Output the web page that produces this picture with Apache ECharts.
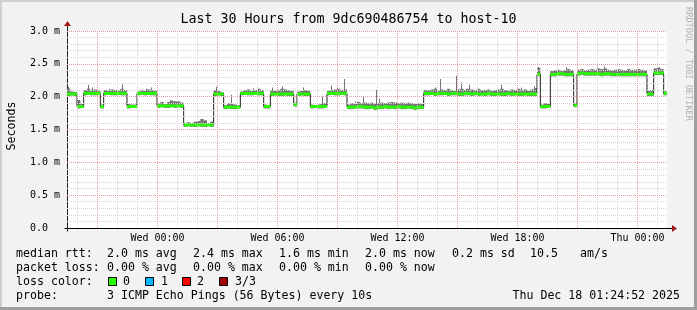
<!DOCTYPE html>
<html><head><meta charset="utf-8">
<script src="https://cdn.jsdelivr.net/npm/echarts@6/dist/echarts.min.js"></script>
<style>html,body{margin:0;padding:0;background:#f2f2f2}#c{width:697px;height:310px}</style>
</head><body><div id="c"></div>
<script>
// ---------- data ----------
const startHour = 19.475;           // graph start (hours since Tue 00:00)
const stepHours = 1 / 6;            // 10-minute steps
const spanHours = 30;

const median = [
2.04,2.04,2.04,1.85,1.85,2.05,2.05,2.05,2.05,2.05,
1.85,2.05,2.05,2.05,2.05,2.05,2.05,2.05,1.85,1.85,
1.85,2.05,2.05,2.05,2.05,2.05,2.05,1.86,1.86,1.86,
1.86,1.86,1.86,1.86,1.86,1.57,1.57,1.57,1.57,1.57,
1.57,1.57,1.57,1.57,2.04,2.04,2.04,1.84,1.84,1.84,
1.84,1.84,2.05,2.05,2.05,2.05,2.05,2.05,2.05,1.85,
1.85,2.04,2.04,2.04,2.04,2.04,2.04,2.04,1.88,2.04,
2.04,2.04,2.04,1.85,1.85,1.85,1.85,1.85,2.05,2.05,
2.05,2.05,2.05,2.05,1.84,1.84,1.84,1.85,1.85,1.84,
1.84,1.84,1.83,1.84,1.84,1.85,1.84,1.84,1.84,1.85,
1.84,1.84,1.84,1.84,1.83,1.84,1.84,2.05,2.05,2.05,
2.04,2.05,2.05,2.05,2.04,2.05,2.05,2.04,2.04,2.05,
2.05,2.04,2.05,2.04,2.04,2.04,2.05,2.04,2.04,2.04,
2.04,2.04,2.05,2.04,2.04,2.04,2.04,2.04,2.04,2.04,
2.04,2.34,1.85,1.85,1.85,2.34,2.34,2.35,2.35,2.34,
2.34,2.34,1.87,2.35,2.36,2.35,2.35,2.35,2.35,2.35,
2.34,2.35,2.35,2.34,2.34,2.34,2.34,2.34,2.34,2.34,
2.34,2.34,2.34,2.34,2.04,2.04,2.36,2.36,2.36,2.05
];
const smokeHi = [
2.12,2.08,2.07,1.95,1.89,2.10,2.12,2.09,2.11,2.09,
1.88,2.10,2.09,2.11,2.10,2.09,2.12,2.10,1.89,1.88,
1.88,2.08,2.10,2.09,2.11,2.10,2.09,1.90,1.92,1.89,
1.92,1.94,1.93,1.93,1.91,1.60,1.61,1.60,1.62,1.63,
1.66,1.64,1.60,1.62,2.10,2.09,2.07,1.87,1.90,1.89,
1.88,1.87,2.08,2.10,2.11,2.09,2.10,2.12,2.10,1.88,
1.87,2.10,2.09,2.10,2.12,2.11,2.10,2.09,1.91,2.08,
2.09,2.10,2.09,1.88,1.87,1.88,1.89,1.90,2.09,2.10,
2.11,2.12,2.10,2.11,1.88,1.90,1.89,1.92,1.90,1.91,
1.90,1.91,1.89,1.90,1.91,1.90,1.91,1.92,1.91,1.90,
1.91,1.90,1.91,1.90,1.89,1.90,1.89,2.10,2.10,2.11,
2.12,2.09,2.11,2.10,2.12,2.10,2.09,2.11,2.12,2.10,
2.12,2.11,2.10,2.12,2.10,2.10,2.11,2.09,2.10,2.11,
2.12,2.10,2.09,2.11,2.10,2.12,2.10,2.11,2.09,2.11,
2.13,2.44,1.88,1.90,1.89,2.39,2.40,2.41,2.39,2.40,
2.42,2.40,1.90,2.41,2.42,2.40,2.41,2.42,2.41,2.43,
2.42,2.43,2.41,2.40,2.41,2.42,2.41,2.40,2.42,2.41,
2.41,2.42,2.41,2.40,2.09,2.10,2.43,2.44,2.42,2.08
];
const smokeLo = [
2.01,2.02,2.01,1.82,1.83,2.02,2.03,2.02,2.02,2.03,
1.82,2.02,2.03,2.02,2.02,2.03,2.02,2.02,1.82,1.83,
1.83,2.02,2.03,2.02,2.03,2.02,2.02,1.83,1.84,1.83,
1.83,1.84,1.83,1.84,1.83,1.54,1.55,1.54,1.54,1.55,
1.54,1.54,1.55,1.54,2.01,2.02,2.01,1.81,1.82,1.81,
1.81,1.82,2.02,2.03,2.02,2.02,2.03,2.02,2.02,1.82,
1.82,2.01,2.02,2.01,2.01,2.02,2.01,2.01,1.85,2.01,
2.02,2.01,2.01,1.82,1.83,1.82,1.82,1.83,2.02,2.03,
2.02,2.02,2.03,2.02,1.81,1.81,1.82,1.82,1.82,1.81,
1.81,1.82,1.80,1.81,1.81,1.82,1.81,1.82,1.81,1.82,
1.81,1.81,1.82,1.81,1.80,1.81,1.81,2.02,2.02,2.03,
2.01,2.02,2.02,2.03,2.01,2.02,2.02,2.01,2.01,2.02,
2.02,2.01,2.02,2.01,2.02,2.01,2.02,2.01,2.01,2.02,
2.01,2.01,2.02,2.01,2.02,2.01,2.01,2.02,2.01,2.01,
2.01,2.31,1.82,1.82,1.83,2.31,2.31,2.32,2.32,2.31,
2.31,2.31,1.84,2.32,2.33,2.32,2.32,2.32,2.32,2.32,
2.31,2.32,2.32,2.31,2.31,2.31,2.31,2.31,2.31,2.31,
2.31,2.31,2.31,2.31,2.01,2.01,2.33,2.33,2.33,2.02
];
// isolated smoke spikes: [hour, top value]
const spikes = [
[19.57,2.15],[20.53,2.18],[20.77,2.14],[21.62,2.12],[22.25,2.19],[23.45,2.12],[23.70,2.14],
[24.67,1.95],[26.95,2.15],[27.70,2.03],[28.82,2.13],[29.77,2.14],[30.25,2.16],[31.32,2.14],
[32.25,2.00],[32.72,2.17],[33.02,2.15],[33.33,2.27],[33.92,1.93],[34.30,2.00],[34.93,2.10],
[35.08,1.97],[37.42,2.11],[37.88,2.14],[38.17,2.27],[38.93,2.32],[39.18,2.22],[39.47,2.12],
[39.62,2.18],[41.20,2.18],[42.20,2.14],[42.87,2.16],[43.07,2.45],[44.45,2.45],[46.02,2.46],
[46.37,2.46],[49.12,2.45]
];

const xTickHours = [24, 30, 36, 42, 48];
const xTickLabels = ['Wed 00:00', 'Wed 06:00', 'Wed 12:00', 'Wed 18:00', 'Thu 00:00'];
const majorXGrid = [21, 24, 27, 30, 33, 36, 39, 42, 45, 48];
const minorXGrid = [20, 22, 23, 25, 26, 28, 29, 31, 32, 34, 35, 37, 38, 40, 41, 43, 44, 46, 47, 49];
const majorYGrid = [0.5, 1.0, 1.5, 2.0, 2.5, 3.0];
const minorYGrid = [0.1,0.2,0.3,0.4,0.6,0.7,0.8,0.9,1.1,1.2,1.3,1.4,1.6,1.7,1.8,1.9,2.1,2.2,2.3,2.4,2.6,2.7,2.8,2.9];

const titleText = 'Last 30 Hours from 9dc690486754 to host-10';
const yAxisName = 'Seconds';
const watermark = 'RRDTOOL / TOBI OETIKER';
const rowLabels = ['median rtt:', 'packet loss:', 'loss color:', 'probe:'];
const rttStats = ['2.0 ms avg', '2.4 ms max', '1.6 ms min', '2.0 ms now', '0.2 ms sd', '10.5', 'am/s'];
const lossStats = ['0.00 % avg', '0.00 % max', '0.00 % min', '0.00 % now'];
const lossLabels = ['0', '1', '2', '3/3'];
const lossColors = ['#26ff00', '#00b8ff', '#ff0000', '#a10000'];
const probeText = '3 ICMP Echo Pings (56 Bytes) every 10s';
const stampText = 'Thu Dec 18 01:24:52 2025';

// ---------- layout / style ----------
const MONO = '"DejaVu Sans Mono", monospace';
const rowY = [254, 268, 282, 295.5];
const rttX = [107, 193, 279, 365, 452, 530, 580];
const lossX = [107, 193, 279, 365];
const swatchX = [108, 145, 182, 219];
const lossLabelX = [123, 161, 197, 235];
const MAJOR = '#e69c9c', MINOR = '#d6d6d6';

const times = median.map((_, i) => startHour + i * stepHours);
const lineData = median.map((m, i) => [times[i], m]);
lineData.push([startHour + median.length * stepHours, median[median.length - 1]]);

const gridMarks = []
  .concat(minorXGrid.map(h => ({ xAxis: h, lineStyle: { color: MINOR } })))
  .concat(minorYGrid.map(v => ({ yAxis: v, lineStyle: { color: MINOR } })))
  .concat(majorXGrid.map(h => ({ xAxis: h, lineStyle: { color: MAJOR } })))
  .concat(majorYGrid.map(v => ({ yAxis: v, lineStyle: { color: MAJOR } })));

function rectItem(fill, halfPx) {
  return function (params, api) {
    const a = api.coord([api.value(0), api.value(3)]);
    const b = api.coord([api.value(1), api.value(2)]);
    let y0 = a[1], h = b[1] - a[1];
    if (halfPx) { const c = api.coord([api.value(0), api.value(2)]); y0 = c[1] - halfPx; h = halfPx * 2; }
    return { type: 'rect', shape: { x: a[0], y: y0, width: b[0] - a[0], height: Math.max(h, 1) }, style: { fill: fill } };
  };
}

const chart = echarts.init(document.getElementById('c'), null, { renderer: 'canvas' });
chart.setOption({
  animation: false,
  backgroundColor: '#f2f2f2',
  grid: { left: 67, right: 30, top: 31, bottom: 82, show: true, backgroundColor: '#ffffff', borderWidth: 0 },
  xAxis: {
    type: 'value', min: startHour, max: startHour + spanHours,
    axisLine: { show: true, lineStyle: { color: '#000', width: 1 } },
    axisTick: { show: false }, splitLine: { show: false },
    axisLabel: {
      customValues: xTickHours,
      formatter: v => { const k = xTickHours.findIndex(h => Math.abs(h - v) < 1e-6); return k >= 0 ? xTickLabels[k] : ''; },
      fontFamily: MONO, fontSize: 10, color: '#000', margin: 5
    }
  },
  yAxis: {
    type: 'value', min: 0, max: 3, interval: 0.1,
    axisLine: { show: true, lineStyle: { color: '#222', width: 1 } },
    axisTick: { show: false }, splitLine: { show: false },
    axisLabel: {
      formatter: v => { if (Math.abs(v * 2 - Math.round(v * 2)) > 1e-6) return ''; return v === 0 ? '0.0' : v.toFixed(1) + ' m'; },
      align: 'left', margin: 37, fontFamily: MONO, fontSize: 10, color: '#000'
    }
  },
  series: [
    { type: 'line', data: [], z: 1, silent: true,
      markLine: { silent: true, symbol: ['none', 'none'], label: { show: false }, animation: false,
        lineStyle: { type: [1, 1], width: 1 }, emphasis: { disabled: true }, data: gridMarks } },
    { type: 'custom', z: 2, silent: true, clip: true,
      data: smokeHi.map((h, i) => [times[i], times[i] + stepHours, smokeLo[i], h]),
      renderItem: rectItem('#727272') },
    { type: 'custom', z: 2, silent: true, clip: true,
      data: spikes.map(s => { const k = Math.min(median.length - 1, Math.floor((s[0] - startHour) / stepHours)); return [s[0], s[0], median[k], s[1]]; }),
      renderItem: function (params, api) {
        const a = api.coord([api.value(0), api.value(3)]);
        const b = api.coord([api.value(0), api.value(2)]);
        const x = Math.floor(a[0]);
        return { type: 'rect', shape: { x: x, y: a[1], width: 1, height: b[1] - a[1] }, style: { fill: '#767676' } };
      } },
    { type: 'line', z: 3, silent: true, step: 'end', showSymbol: false, symbol: 'none',
      data: lineData, lineStyle: { color: '#202020', width: 1 } },
    { type: 'custom', z: 4, silent: true, clip: true,
      data: median.map((m, i) => [times[i], times[i] + stepHours, m, m]),
      renderItem: rectItem(lossColors[0], 1.5) }
  ]
});

// ---------- decorations / texts ----------
const p0 = chart.convertToPixel({ gridIndex: 0 }, [startHour, 0]);
const p1 = chart.convertToPixel({ gridIndex: 0 }, [startHour + spanHours, 3]);
const ax = Math.round(p0[0]) + 0.5, ay = Math.round(p0[1]) + 0.5, topY = p1[1], rightX = p1[0];
const ARROW = '#a01c1c';
const txt = (text, x, y, opt) => Object.assign({ type: 'text', x: x, y: y, silent: true, z: 100,
  style: Object.assign({ text: text, fontFamily: MONO, fontSize: 11.6, fill: '#000', align: 'left', verticalAlign: 'middle' }, opt || {}) });

const g = [
  { type: 'rect', shape: { x: 0, y: 0, width: 697, height: 2 }, style: { fill: '#cfcfcf' }, silent: true },
  { type: 'rect', shape: { x: 0, y: 0, width: 2, height: 310 }, style: { fill: '#cfcfcf' }, silent: true },
  { type: 'rect', shape: { x: 0, y: 307, width: 697, height: 3 }, style: { fill: '#9e9e9e' }, silent: true },
  { type: 'rect', shape: { x: 694, y: 0, width: 3, height: 310 }, style: { fill: '#9e9e9e' }, silent: true },
  { type: 'line', shape: { x1: ax, y1: topY, x2: ax, y2: topY - 6 }, style: { stroke: '#222', lineWidth: 1 }, silent: true, z: 50 },
  { type: 'polygon', shape: { points: [[ax - 3.5, topY - 5], [ax + 3.5, topY - 5], [ax, topY - 10]] }, style: { fill: ARROW }, silent: true, z: 51 },
  { type: 'line', shape: { x1: ax - 3, y1: ay, x2: ax, y2: ay }, style: { stroke: '#000', lineWidth: 1 }, silent: true, z: 50 },
  { type: 'line', shape: { x1: ax, y1: ay, x2: ax, y2: ay + 3 }, style: { stroke: '#222', lineWidth: 1 }, silent: true, z: 50 },
  { type: 'line', shape: { x1: rightX, y1: ay, x2: rightX + 6, y2: ay }, style: { stroke: '#000', lineWidth: 1 }, silent: true, z: 50 },
  { type: 'polygon', shape: { points: [[rightX + 5, ay - 3.5], [rightX + 5, ay + 3.5], [rightX + 10, ay]] }, style: { fill: ARROW }, silent: true, z: 51 },
  txt(titleText, 348.5, 19.3, { fontSize: 13.3, align: 'center' }),
  Object.assign(txt(yAxisName, 11.5, 126, { align: 'center' }), { rotation: Math.PI / 2 }),
  Object.assign(txt(watermark, 688, 64, { align: 'center', fontSize: 8.6, fill: '#b4b4b4' }), { rotation: -Math.PI / 2 })
];
rowLabels.forEach((t, i) => g.push(txt(t, 16, rowY[i])));
rttStats.forEach((t, i) => g.push(txt(t, rttX[i], rowY[0])));
lossStats.forEach((t, i) => g.push(txt(t, lossX[i], rowY[1])));
lossLabels.forEach((t, i) => {
  g.push({ type: 'rect', silent: true, z: 100, shape: { x: swatchX[i] + 0.5, y: rowY[2] - 4.5, width: 8, height: 8 },
    style: { fill: lossColors[i], stroke: '#000', lineWidth: 1 } });
  g.push(txt(t, lossLabelX[i], rowY[2]));
});
g.push(txt(probeText, 107, rowY[3]));
g.push(txt(stampText, 680, rowY[3], { align: 'right' }));
chart.setOption({ graphic: g });
</script>
</body></html>
